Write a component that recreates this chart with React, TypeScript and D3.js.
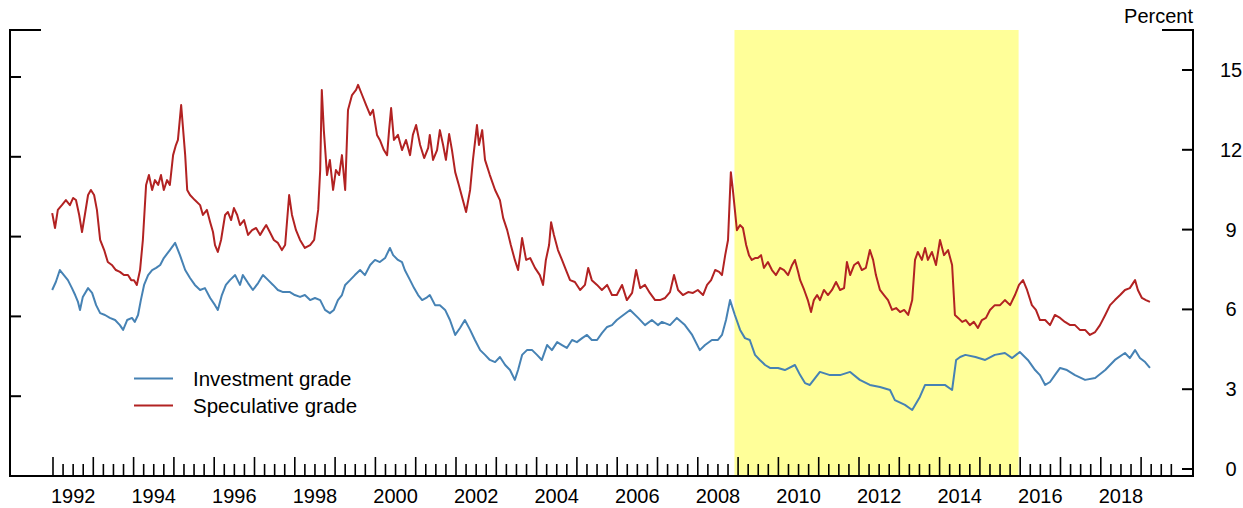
import React from 'react';
import * as d3 from 'd3';

// Corporate bond yields, percent, by decimal year
const investmentGrade: [number, number][] = [
  [1991.98, 6.73], [1992.07, 7.03], [1992.17, 7.48], [1992.27, 7.29], [1992.37, 7.1], [1992.47, 6.8],
  [1992.55, 6.54], [1992.62, 6.28], [1992.67, 5.98], [1992.74, 6.47], [1992.87, 6.8], [1992.97, 6.62],
  [1993.07, 6.16], [1993.17, 5.86], [1993.29, 5.79], [1993.41, 5.68], [1993.54, 5.6], [1993.66, 5.41],
  [1993.74, 5.23], [1993.84, 5.6], [1993.96, 5.68], [1994.03, 5.53], [1994.11, 5.79], [1994.18, 6.35],
  [1994.26, 6.92], [1994.36, 7.29], [1994.46, 7.48], [1994.56, 7.56], [1994.66, 7.67], [1994.75, 7.93],
  [1994.9, 8.23], [1995.03, 8.5], [1995.15, 8.04], [1995.28, 7.48], [1995.4, 7.18], [1995.52, 6.92],
  [1995.65, 6.73], [1995.77, 6.8], [1995.9, 6.43], [1996.02, 6.16], [1996.09, 5.98], [1996.19, 6.54],
  [1996.29, 6.92], [1996.39, 7.1], [1996.52, 7.29], [1996.64, 6.92], [1996.71, 7.29], [1996.84, 6.99],
  [1996.96, 6.73], [1997.09, 6.99], [1997.21, 7.29], [1997.34, 7.1], [1997.46, 6.92], [1997.58, 6.73],
  [1997.71, 6.65], [1997.88, 6.65], [1998.0, 6.54], [1998.13, 6.47], [1998.25, 6.54], [1998.38, 6.35],
  [1998.5, 6.43], [1998.63, 6.35], [1998.75, 5.98], [1998.87, 5.86], [1998.97, 5.98], [1999.07, 6.35],
  [1999.17, 6.54], [1999.25, 6.92], [1999.37, 7.1], [1999.49, 7.29], [1999.62, 7.48], [1999.74, 7.29],
  [1999.87, 7.67], [1999.99, 7.86], [2000.11, 7.78], [2000.24, 7.93], [2000.36, 8.31], [2000.44, 8.04],
  [2000.56, 7.86], [2000.66, 7.78], [2000.73, 7.48], [2000.86, 7.1], [2000.96, 6.8], [2001.06, 6.54],
  [2001.16, 6.35], [2001.26, 6.43], [2001.35, 6.54], [2001.48, 6.16], [2001.6, 6.16], [2001.73, 5.98],
  [2001.85, 5.6], [2001.98, 5.04], [2002.1, 5.3], [2002.22, 5.6], [2002.35, 5.23], [2002.47, 4.85],
  [2002.6, 4.47], [2002.72, 4.29], [2002.84, 4.1], [2002.97, 4.02], [2003.09, 4.21], [2003.22, 3.91],
  [2003.34, 3.72], [2003.46, 3.35], [2003.54, 3.72], [2003.64, 4.29], [2003.76, 4.47], [2003.89, 4.47],
  [2004.01, 4.29], [2004.13, 4.1], [2004.26, 4.66], [2004.38, 4.47], [2004.51, 4.77], [2004.63, 4.66],
  [2004.75, 4.55], [2004.88, 4.85], [2005.0, 4.77], [2005.13, 4.92], [2005.25, 5.04], [2005.37, 4.85],
  [2005.5, 4.85], [2005.62, 5.11], [2005.75, 5.34], [2005.87, 5.41], [2005.99, 5.6], [2006.12, 5.75],
  [2006.32, 5.98], [2006.52, 5.68], [2006.69, 5.41], [2006.86, 5.6], [2007.01, 5.41], [2007.11, 5.53],
  [2007.31, 5.41], [2007.48, 5.68], [2007.68, 5.41], [2007.86, 5.04], [2008.05, 4.47], [2008.18, 4.66],
  [2008.35, 4.85], [2008.5, 4.85], [2008.6, 5.04], [2008.7, 5.6], [2008.8, 6.35], [2008.92, 5.79],
  [2009.05, 5.23], [2009.17, 4.92], [2009.29, 4.85], [2009.42, 4.29], [2009.54, 4.1], [2009.67, 3.91],
  [2009.79, 3.8], [2009.99, 3.8], [2010.16, 3.72], [2010.41, 3.91], [2010.54, 3.53], [2010.66, 3.23],
  [2010.78, 3.16], [2010.91, 3.42], [2011.03, 3.65], [2011.28, 3.53], [2011.53, 3.53], [2011.78, 3.65],
  [2012.02, 3.35], [2012.27, 3.16], [2012.52, 3.08], [2012.77, 2.97], [2012.89, 2.59], [2013.14, 2.41],
  [2013.32, 2.22], [2013.51, 2.71], [2013.64, 3.16], [2013.89, 3.16], [2014.13, 3.16], [2014.31, 2.97],
  [2014.41, 4.1], [2014.51, 4.21], [2014.64, 4.29], [2014.89, 4.21], [2015.13, 4.1], [2015.37, 4.29],
  [2015.62, 4.36], [2015.8, 4.17], [2015.99, 4.4], [2016.19, 4.1], [2016.37, 3.72], [2016.49, 3.53],
  [2016.62, 3.16], [2016.74, 3.27], [2016.86, 3.53], [2016.99, 3.8], [2017.16, 3.72], [2017.36, 3.53],
  [2017.61, 3.35], [2017.86, 3.42], [2018.11, 3.72], [2018.35, 4.1], [2018.6, 4.36], [2018.72, 4.17],
  [2018.85, 4.47], [2018.97, 4.17], [2019.1, 4.02], [2019.22, 3.8],
];

const speculativeGrade: [number, number][] = [
  [1991.98, 9.62], [1992.05, 9.06], [1992.12, 9.74], [1992.22, 9.92], [1992.32, 10.11], [1992.42, 9.92],
  [1992.5, 10.19], [1992.57, 10.11], [1992.65, 9.55], [1992.72, 8.91], [1992.79, 9.55], [1992.87, 10.3],
  [1992.94, 10.49], [1993.02, 10.3], [1993.09, 9.74], [1993.17, 8.61], [1993.27, 8.23], [1993.36, 7.78],
  [1993.46, 7.67], [1993.56, 7.48], [1993.66, 7.41], [1993.76, 7.29], [1993.86, 7.29], [1993.94, 7.1],
  [1994.01, 7.1], [1994.08, 6.92], [1994.16, 7.48], [1994.23, 8.61], [1994.31, 10.68], [1994.38, 11.05],
  [1994.46, 10.49], [1994.53, 10.86], [1994.61, 10.68], [1994.68, 11.05], [1994.75, 10.49], [1994.83, 10.86],
  [1994.9, 10.68], [1994.98, 11.8], [1995.05, 12.18], [1995.1, 12.37], [1995.18, 13.68], [1995.23, 12.74],
  [1995.28, 11.8], [1995.33, 10.49], [1995.4, 10.3], [1995.52, 10.11], [1995.65, 9.92], [1995.72, 9.55],
  [1995.82, 9.74], [1995.9, 9.28], [1995.97, 8.91], [1996.02, 8.42], [1996.09, 8.16], [1996.17, 8.61],
  [1996.27, 9.55], [1996.34, 9.66], [1996.42, 9.36], [1996.49, 9.81], [1996.57, 9.55], [1996.64, 9.17],
  [1996.74, 9.36], [1996.84, 8.8], [1996.94, 8.98], [1997.04, 9.06], [1997.14, 8.8], [1997.21, 8.98],
  [1997.29, 9.17], [1997.38, 8.91], [1997.48, 8.61], [1997.58, 8.5], [1997.68, 8.23], [1997.76, 8.42],
  [1997.86, 10.3], [1997.93, 9.55], [1998.03, 8.98], [1998.13, 8.61], [1998.25, 8.31], [1998.38, 8.42],
  [1998.48, 8.61], [1998.58, 9.74], [1998.63, 11.24], [1998.67, 14.25], [1998.72, 12.74], [1998.8, 11.05],
  [1998.87, 11.62], [1998.95, 10.49], [1999.02, 11.24], [1999.1, 11.05], [1999.17, 11.8], [1999.25, 10.49],
  [1999.32, 13.5], [1999.42, 14.06], [1999.52, 14.25], [1999.57, 14.44], [1999.67, 14.06], [1999.77, 13.68],
  [1999.87, 13.31], [1999.94, 13.5], [2000.04, 12.56], [2000.11, 12.37], [2000.21, 11.99], [2000.29, 11.8],
  [2000.34, 12.74], [2000.39, 13.57], [2000.46, 12.37], [2000.56, 12.56], [2000.66, 11.99], [2000.76, 12.37],
  [2000.86, 11.8], [2000.93, 12.56], [2001.01, 12.93], [2001.11, 12.18], [2001.21, 11.69], [2001.31, 12.07],
  [2001.35, 12.56], [2001.43, 11.62], [2001.53, 11.99], [2001.6, 12.74], [2001.68, 12.18], [2001.75, 11.62],
  [2001.83, 12.59], [2001.9, 11.99], [2001.98, 11.16], [2002.07, 10.68], [2002.17, 10.11], [2002.25, 9.66],
  [2002.35, 10.49], [2002.42, 11.62], [2002.52, 12.93], [2002.57, 12.18], [2002.65, 12.74], [2002.72, 11.62],
  [2002.84, 11.05], [2002.97, 10.49], [2003.09, 10.11], [2003.17, 9.44], [2003.27, 8.98], [2003.36, 8.42],
  [2003.46, 7.86], [2003.54, 7.48], [2003.59, 8.04], [2003.64, 8.68], [2003.74, 7.86], [2003.84, 7.93],
  [2003.96, 7.56], [2004.08, 7.29], [2004.16, 6.92], [2004.23, 7.86], [2004.31, 8.42], [2004.36, 9.28],
  [2004.43, 8.8], [2004.53, 8.23], [2004.63, 7.86], [2004.73, 7.48], [2004.83, 7.1], [2004.95, 7.03],
  [2005.08, 6.73], [2005.2, 6.92], [2005.28, 7.56], [2005.37, 7.1], [2005.5, 6.92], [2005.62, 6.73],
  [2005.75, 6.92], [2005.87, 6.54], [2005.99, 6.54], [2006.12, 6.92], [2006.24, 6.35], [2006.37, 6.62],
  [2006.47, 7.48], [2006.57, 6.8], [2006.69, 6.92], [2006.81, 6.62], [2006.94, 6.35], [2007.06, 6.35],
  [2007.19, 6.43], [2007.31, 6.65], [2007.41, 7.29], [2007.51, 6.73], [2007.63, 6.54], [2007.76, 6.65],
  [2007.88, 6.62], [2008.0, 6.73], [2008.13, 6.54], [2008.23, 6.92], [2008.33, 7.1], [2008.43, 7.48],
  [2008.53, 7.41], [2008.6, 7.29], [2008.68, 8.04], [2008.75, 8.61], [2008.82, 11.16], [2008.87, 10.49],
  [2008.92, 9.74], [2008.97, 8.98], [2009.05, 9.17], [2009.12, 9.06], [2009.2, 8.42], [2009.27, 8.04],
  [2009.34, 7.86], [2009.42, 7.93], [2009.49, 7.93], [2009.57, 8.04], [2009.64, 7.56], [2009.74, 7.78],
  [2009.84, 7.48], [2009.94, 7.29], [2010.04, 7.56], [2010.14, 7.48], [2010.24, 7.29], [2010.34, 7.67],
  [2010.41, 7.86], [2010.49, 7.41], [2010.54, 7.1], [2010.64, 6.73], [2010.73, 6.35], [2010.81, 5.9],
  [2010.88, 6.35], [2010.96, 6.54], [2011.03, 6.35], [2011.13, 6.73], [2011.23, 6.54], [2011.33, 6.73],
  [2011.43, 7.03], [2011.53, 6.73], [2011.63, 6.8], [2011.7, 7.78], [2011.78, 7.29], [2011.88, 7.67],
  [2011.98, 7.78], [2012.07, 7.48], [2012.17, 7.56], [2012.27, 8.23], [2012.35, 7.86], [2012.42, 7.29],
  [2012.52, 6.73], [2012.62, 6.54], [2012.72, 6.35], [2012.82, 5.98], [2012.92, 6.05], [2013.02, 5.9],
  [2013.12, 5.98], [2013.22, 5.79], [2013.32, 6.35], [2013.39, 7.86], [2013.46, 8.16], [2013.56, 7.86],
  [2013.64, 8.31], [2013.71, 7.86], [2013.81, 8.16], [2013.91, 7.67], [2014.01, 8.61], [2014.11, 8.04],
  [2014.21, 8.23], [2014.31, 7.67], [2014.38, 5.79], [2014.46, 5.68], [2014.56, 5.53], [2014.65, 5.6],
  [2014.75, 5.41], [2014.85, 5.53], [2014.95, 5.3], [2015.05, 5.6], [2015.15, 5.68], [2015.25, 5.98],
  [2015.37, 6.16], [2015.5, 6.16], [2015.62, 6.35], [2015.75, 6.16], [2015.87, 6.54], [2015.97, 6.92],
  [2016.07, 7.1], [2016.17, 6.73], [2016.29, 6.16], [2016.39, 5.98], [2016.49, 5.6], [2016.62, 5.6],
  [2016.74, 5.41], [2016.86, 5.79], [2016.99, 5.68], [2017.11, 5.53], [2017.24, 5.41], [2017.36, 5.41],
  [2017.48, 5.23], [2017.61, 5.23], [2017.73, 5.04], [2017.86, 5.15], [2017.98, 5.41], [2018.11, 5.79],
  [2018.23, 6.16], [2018.35, 6.35], [2018.48, 6.54], [2018.6, 6.73], [2018.72, 6.8], [2018.85, 7.1],
  [2018.92, 6.73], [2019.02, 6.43], [2019.12, 6.35], [2019.22, 6.28],
];

const yTickValues = [0, 3, 6, 9, 12, 15];
const leftTickValues = [3, 6, 9, 12, 15];
const yearLabels = [1992, 1994, 1996, 1998, 2000, 2002, 2004, 2006, 2008, 2010, 2012, 2014, 2016, 2018];
const firstTickYear = 1992;
const lastTickYear = 2019;
// Federal funds rate at its effective lower bound
const shadedPeriod: [number, number] = [2008.91, 2015.96];

const seriesNames = ['Investment grade', 'Speculative grade'];
const seriesColors = ['#4682b4', '#b22222'];

const W = 1243;
const H = 508;
const frame = { left: 10, right: 1193, top: 30, bottom: 476 };
const FONT = '"Liberation Sans", Arial, sans-serif';

export default function App() {
  const x = d3.scaleLinear().domain([1992, 2019]).range([53, 1141.1]);
  const y = d3.scaleLinear().domain([0, 15]).range([469, 70]);
  const yLeft = d3.scaleLinear().domain([0, 15]).range([476, 77]);

  const line = d3
    .line<[number, number]>()
    .x((d) => x(d[0]))
    .y((d) => y(d[1]));

  const quarterTicks: { v: number; major: boolean }[] = [];
  for (let yr = firstTickYear; yr <= lastTickYear; yr++) {
    for (let q = 0; q < 4; q++) quarterTicks.push({ v: yr + q / 4, major: q === 0 });
  }

  return (
    <svg
      width={W}
      height={H}
      style={{ position: 'absolute', left: 0, top: 0, background: '#fff' }}
      fontFamily={FONT}
    >
      <rect
        x={x(shadedPeriod[0])}
        y={frame.top}
        width={x(shadedPeriod[1]) - x(shadedPeriod[0])}
        height={frame.bottom - frame.top}
        fill="#ffff99"
      />

      {/* frame */}
      <g stroke="#000" strokeWidth={2} fill="none" strokeLinecap="square">
        <path d={`M${frame.left + 30},${frame.top}H${frame.left}V${frame.bottom}H${frame.right}V${frame.top}H${frame.right - 30}`} />
      </g>

      {/* left ticks */}
      <g stroke="#000" strokeWidth={2}>
        {leftTickValues.map((v) => (
          <line key={v} x1={frame.left} x2={frame.left + 11} y1={yLeft(v)} y2={yLeft(v)} />
        ))}
      </g>

      {/* right axis */}
      <g stroke="#000" strokeWidth={2}>
        {yTickValues.map((v) => (
          <line key={v} x1={frame.right - 11} x2={frame.right} y1={y(v)} y2={y(v)} />
        ))}
      </g>
      <g fontSize={20} textAnchor="middle" fill="#000">
        {yTickValues.map((v) => (
          <text key={v} x={1231} y={y(v)} dy="0.35em">
            {v}
          </text>
        ))}
        <text x={frame.right} y={23} textAnchor="end">
          Percent
        </text>
      </g>

      {/* bottom axis */}
      <g stroke="#000" strokeWidth={1.6}>
        {quarterTicks.map((t) => (
          <line
            key={t.v}
            x1={x(t.v)}
            x2={x(t.v)}
            y1={frame.bottom}
            y2={frame.bottom - (t.major ? 19 : 12)}
          />
        ))}
      </g>
      <g fontSize={20} textAnchor="middle" fill="#000">
        {yearLabels.map((yr) => (
          <text key={yr} x={x(yr + 0.5)} y={503}>
            {yr}
          </text>
        ))}
      </g>

      {/* series */}
      <path d={line(investmentGrade) ?? ''} fill="none" stroke={seriesColors[0]} strokeWidth={2} strokeLinejoin="round" />
      <path d={line(speculativeGrade) ?? ''} fill="none" stroke={seriesColors[1]} strokeWidth={2} strokeLinejoin="round" />

      {/* legend */}
      {seriesNames.map((name, i) => (
        <g key={name} transform={`translate(0, ${378.5 + i * 27})`}>
          <line x1={134} x2={173} y1={0} y2={0} stroke={seriesColors[i]} strokeWidth={2} />
          <text x={193} y={0} dy="0.35em" fontSize={20.5} fill="#000">
            {name}
          </text>
        </g>
      ))}
    </svg>
  );
}
